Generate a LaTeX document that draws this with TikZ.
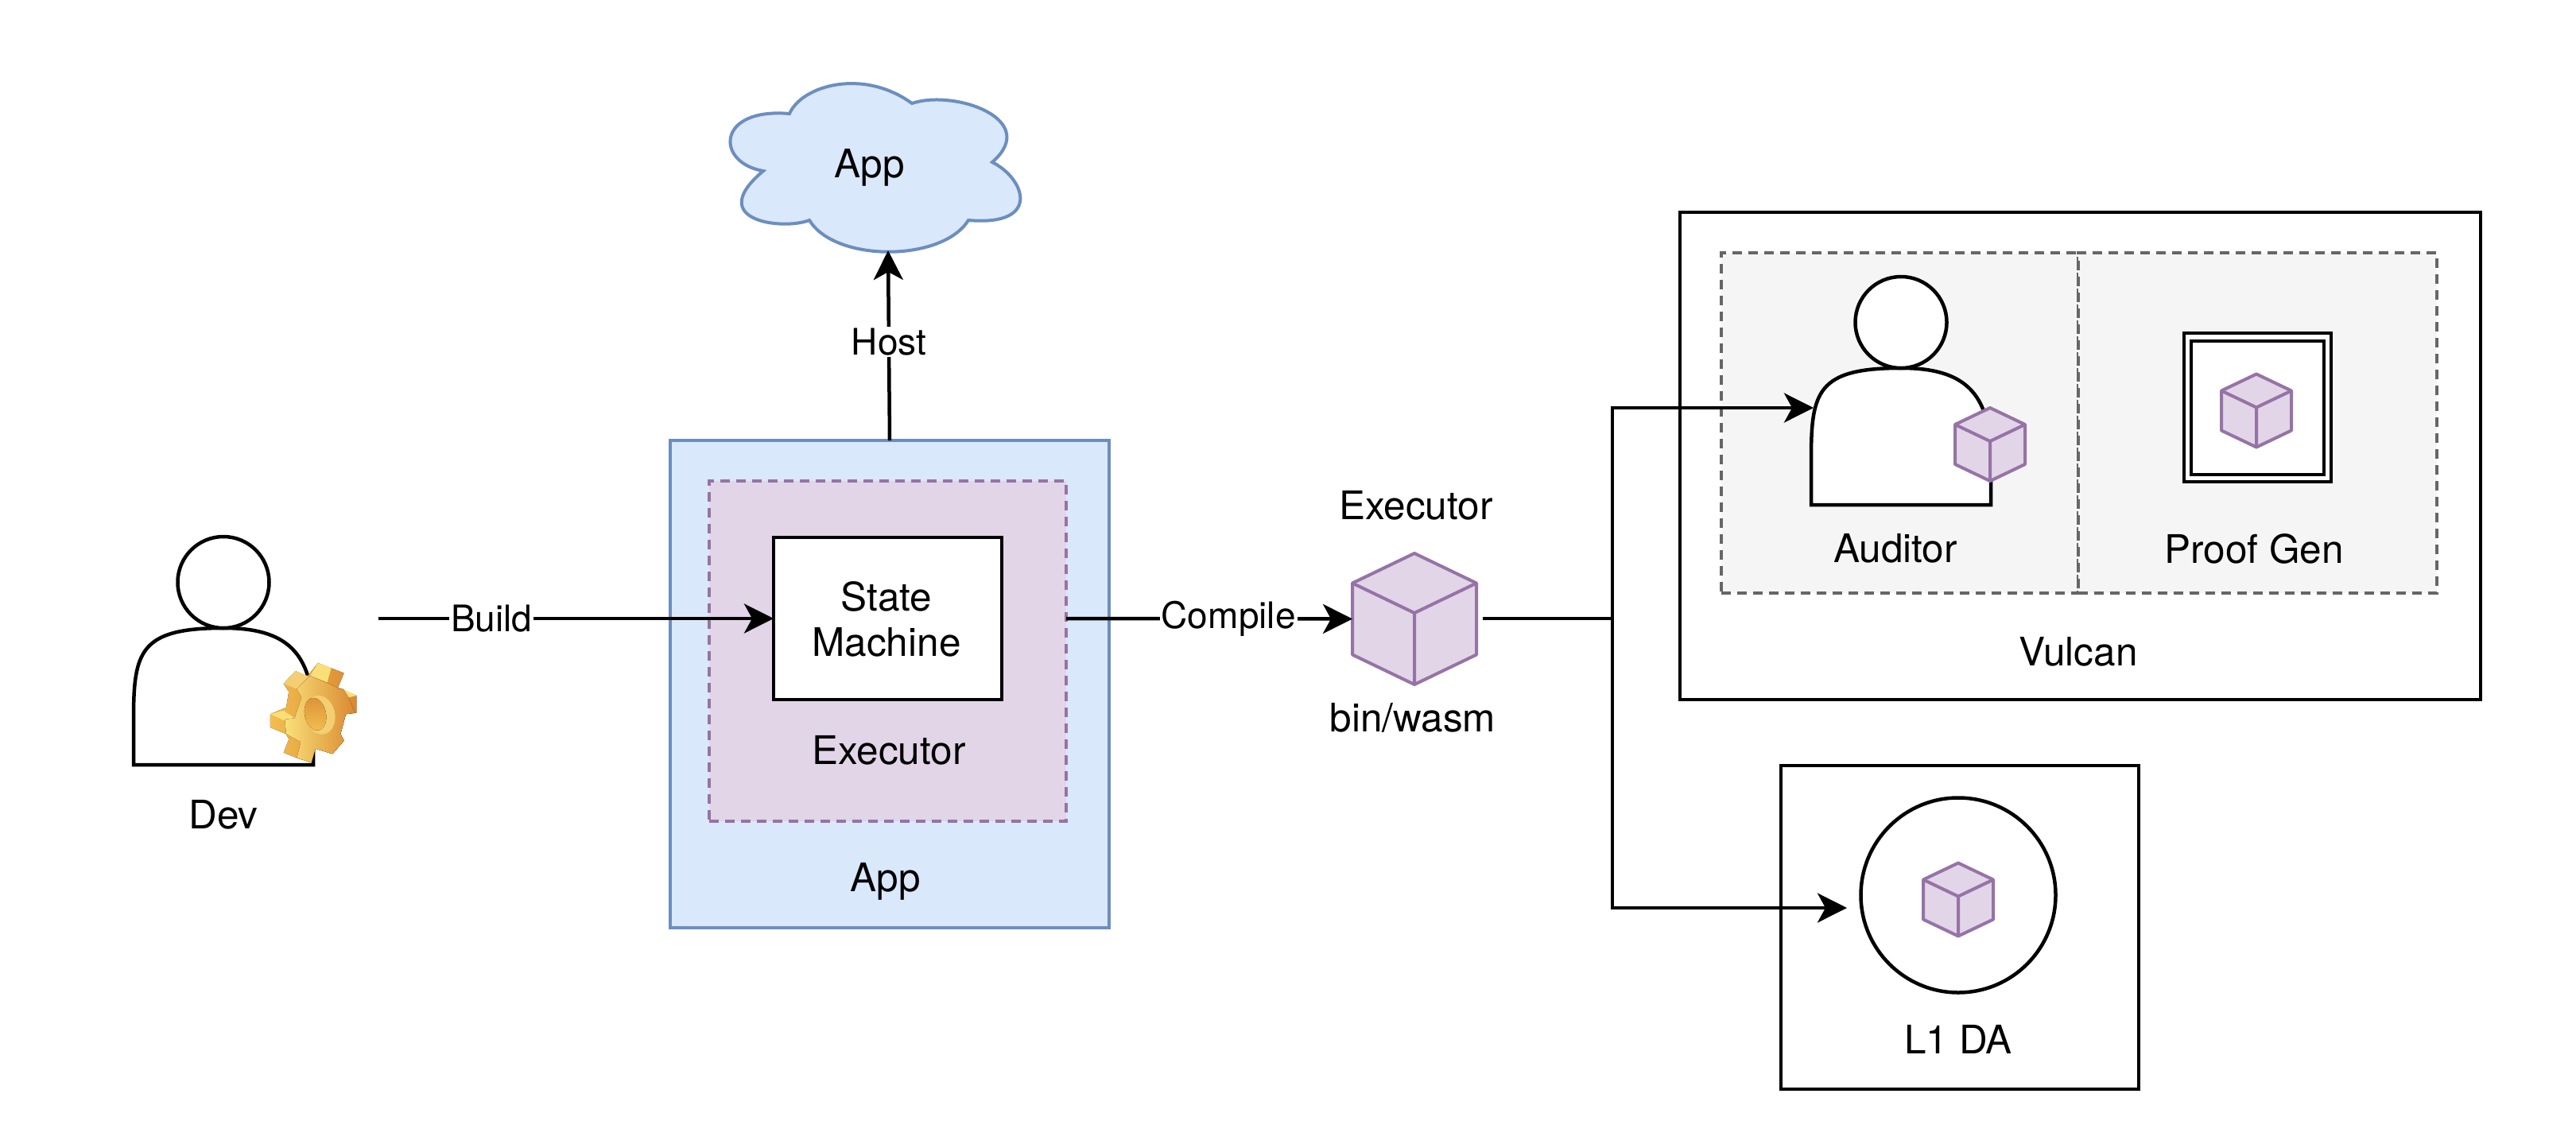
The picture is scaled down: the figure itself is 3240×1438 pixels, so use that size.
\documentclass[tikz,border=0pt]{standalone}
\usepackage{fontspec}
\setmainfont{TeX Gyre Heros}
\usetikzlibrary{arrows.meta,shapes.geometric}
\definecolor{bluefill}{HTML}{DAE8FC}
\definecolor{bluestroke}{HTML}{6C8EBF}
\definecolor{purplefill}{HTML}{E1D5E7}
\definecolor{purplestroke}{HTML}{9673A6}
\definecolor{grayfill}{HTML}{F5F5F5}
\definecolor{graystroke}{HTML}{666666}
\definecolor{gearlight}{HTML}{FADF78}
\definecolor{gearmid}{HTML}{F2BE50}
\definecolor{geardark}{HTML}{D98932}
\definecolor{gearpale}{HTML}{F3CE72}
\definecolor{gearhole}{HTML}{DE9438}
\tikzset{
  txt/.style={font=\fontsize{49.5}{57}\selectfont, inner sep=0pt, align=center, text=black},
  lbl/.style={font=\fontsize{46}{55}\selectfont, inner sep=2pt, fill=white, text=black},
  box/.style={draw=black, line width=4.5pt, inner sep=0pt, outer sep=0pt},
  appbox/.style={draw=bluestroke, fill=bluefill, line width=4pt, inner sep=0pt, outer sep=0pt},
  execbox/.style={draw=purplestroke, fill=purplefill, line width=4pt, dash pattern=on 12pt off 8pt, inner sep=0pt, outer sep=0pt},
  graybox/.style={draw=graystroke, fill=grayfill, line width=4pt, dash pattern=on 12pt off 8pt, inner sep=0pt, outer sep=0pt},
  conn/.style={draw=black, line width=4.5pt},
  arr/.style={conn, -{Stealth[length=37pt,width=37pt,inset=10pt]}},
  cubeline/.style={draw=purplestroke, fill=purplefill, line width=4pt, line join=round},
  spot/.style={inner sep=0pt, outer sep=0pt},
  personline/.style={draw=black, fill=white, line width=4.5pt, line join=miter},
}
% cube: name, cx, cy, half width, half height, top-face half height
\newcommand{\drawcube}[6]{%
  \node[spot, minimum width=#4*2pt, minimum height=#5*2pt] (#1) at (#2,#3) {};
  \path[cubeline] (#2,#3-#5) -- (#2+#4,#3-#5+#6) -- (#2+#4,#3+#5-#6) -- (#2,#3+#5) -- (#2-#4,#3+#5-#6) -- (#2-#4,#3-#5+#6) -- cycle;
  \draw[cubeline, fill=none] (#2-#4,#3-#5+#6) -- (#2,#3-#5+2*#6) -- (#2+#4,#3-#5+#6) (#2,#3-#5+2*#6) -- (#2,#3+#5);
}
% person: name, left x of body, top y of head
\newcommand{\drawperson}[3]{%
  \begin{scope}[shift={(#2,#3)}]
    \path[personline] (0,287) -- (0,230) .. controls (0,145) and (7,115) .. (113,115) .. controls (192,115) and (226,145) .. (226,230) -- (226,287) -- cycle;
    \node[spot, draw=black, fill=white, line width=4.5pt, ellipse, minimum width=115pt, minimum height=115pt] (#1) at (113,57.5) {};
  \end{scope}
}
\begin{document}
\begin{tikzpicture}[x=1pt,y=-1pt]
\useasboundingbox (0,0) rectangle (3240,1438);
\fill[white] (0,0) rectangle (3240,1438);

% Dev
\drawperson{devhead}{168}{675}
\node[txt] (devtxt) at (281,1025) {Dev};
\coordinate (devout) at (476,778);

% Gear
\begin{scope}[shift={(130,640)},x=0.3333pt,y=-0.3333pt]
  % extruded silhouette
  \fill[left color=gearmid,right color=geardark]
    (810,582) -- (908,620) -- (885,675) -- (955,705) -- (955,770) -- (915,775) -- (895,850) -- (908,875) -- (865,925) -- (800,905) -- (785,958) -- (730,940) -- (680,920) -- (700,870) -- (690,850) -- (630,825) -- (630,775) -- (690,750) -- (700,690) -- (680,660) -- (725,612) -- (770,632) -- cycle;
  % light tooth tops
  \fill[gearlight] (810,582) -- (860,600) -- (845,655) -- (780,630) -- cycle;
  \fill[gearpale] (725,612) -- (775,632) -- (730,680) -- (680,660) -- cycle;
  \fill[gearlight] (630,775) -- (680,762) -- (722,790) -- (685,800) -- cycle;
  \fill[gearlight] (905,680) -- (955,705) -- (925,712) -- (895,695) -- cycle;
  % front face
  \fill[left color=gearlight,right color=geardark]
    (780,630) -- (850,660) -- (892,680) -- (905,680) -- (925,712) -- (950,770) -- (915,775) -- (895,850) -- (908,875) -- (865,925) -- (800,905) -- (785,958) -- (730,940) -- (745,880) -- (690,850) -- (685,795) -- (722,790) -- (748,712) -- (730,680) -- cycle;
  % hole
  \fill[gearpale, rotate around={12:(818,778)}] (818,778) ellipse [x radius=56, y radius=74];
  \fill[top color=gearhole,bottom color=gearmid, rotate around={12:(800,775)}] (800,775) ellipse [x radius=40, y radius=62];
\end{scope}

% App stack
\node[appbox, minimum width=552pt, minimum height=613pt] (appouter) at (1119,860.5) {};
\node[execbox, minimum width=449pt, minimum height=428pt] (exec) at (1116.5,819) {};
\node[box, fill=white, minimum width=287pt, minimum height=204pt] (sm) at (1116.5,778) {};
\node[txt] (smtxt) at (1115,779) {State\\Machine};
\node[txt] (exectxt) at (1118,944) {Executor};
\node[txt] (apptxt) at (1114,1109) {App};

% Cloud
\path[draw=bluestroke, fill=bluefill, line width=4pt, line join=miter]
  (993,143) .. controls (1008,108) and (1085,85) .. (1147,130)
  .. controls (1200,112) and (1310,150) .. (1248,204)
  .. controls (1290,225) and (1310,285) .. (1218,277)
  .. controls (1185,330) and (1050,330) .. (1018,277)
  .. controls (985,290) and (885,278) .. (960,215)
  .. controls (900,205) and (900,135) .. (993,143) -- cycle;
\node[txt] (cloudtxt) at (1094,211) {App};
\coordinate (cloudin) at (1117,315);

% Binary cube
\node[txt] (exectop) at (1781,636) {Executor};
\drawcube{bincube}{1779}{778.5}{78}{82.5}{37.5}
\node[txt] (bintxt) at (1777,903) {bin/wasm};
\coordinate (binout) at (1865,778);
\coordinate (junction) at (2028,778);

% Vulcan
\node[box, minimum width=1007pt, minimum height=613pt] (vulcan) at (2616.5,573.5) {};
\node[graybox, minimum width=449pt, minimum height=428pt] (audbox) at (2389.5,532) {};
\node[graybox, minimum width=451pt, minimum height=428pt] (proofbox) at (2839,532) {};
\drawperson{audhead}{2278}{348}
\coordinate (audin) at (2281,513);
\drawcube{audcube}{2503}{559}{44}{46}{21}
\node[txt] (audtxt) at (2384,690) {Auditor};
\node[box, fill=white, minimum width=185pt, minimum height=187pt] (proofouter) at (2839.5,512.5) {};
\node[box, fill=white, minimum width=167pt, minimum height=168pt] (proofinner) at (2839.5,513) {};
\drawcube{proofcube}{2838}{516.5}{44}{46}{21}
\node[txt] (prooftxt) at (2835,690) {Proof Gen};
\node[txt] (vulcantxt) at (2614,820) {Vulcan};

% L1 DA
\node[box, minimum width=450pt, minimum height=407pt] (l1) at (2465,1166.5) {};
\node[spot, draw=black, line width=4.5pt, fill=white, ellipse, minimum width=245pt, minimum height=245pt] (l1circle) at (2463,1126) {};
\drawcube{l1cube}{2463}{1131.5}{44}{46}{21}
\node[txt] (l1txt) at (2463,1307) {L1 DA};
\coordinate (l1in) at (2323,1142);

% Connectors
\draw[arr] (devout) -- node[lbl,pos=0.286] (buildlbl) {Build} (sm.west);
\draw[arr] (sm.west -| exec.east) -- node[lbl,pos=0.567] (compilelbl) {Compile} (bincube.west);
\draw[arr] (appouter.north) -- node[lbl,pos=0.519] (hostlbl) {Host} (cloudin);
\draw[arr] (binout) -- (junction) |- (audin);
\draw[arr] (junction) |- (l1in);
\end{tikzpicture}
\end{document}
